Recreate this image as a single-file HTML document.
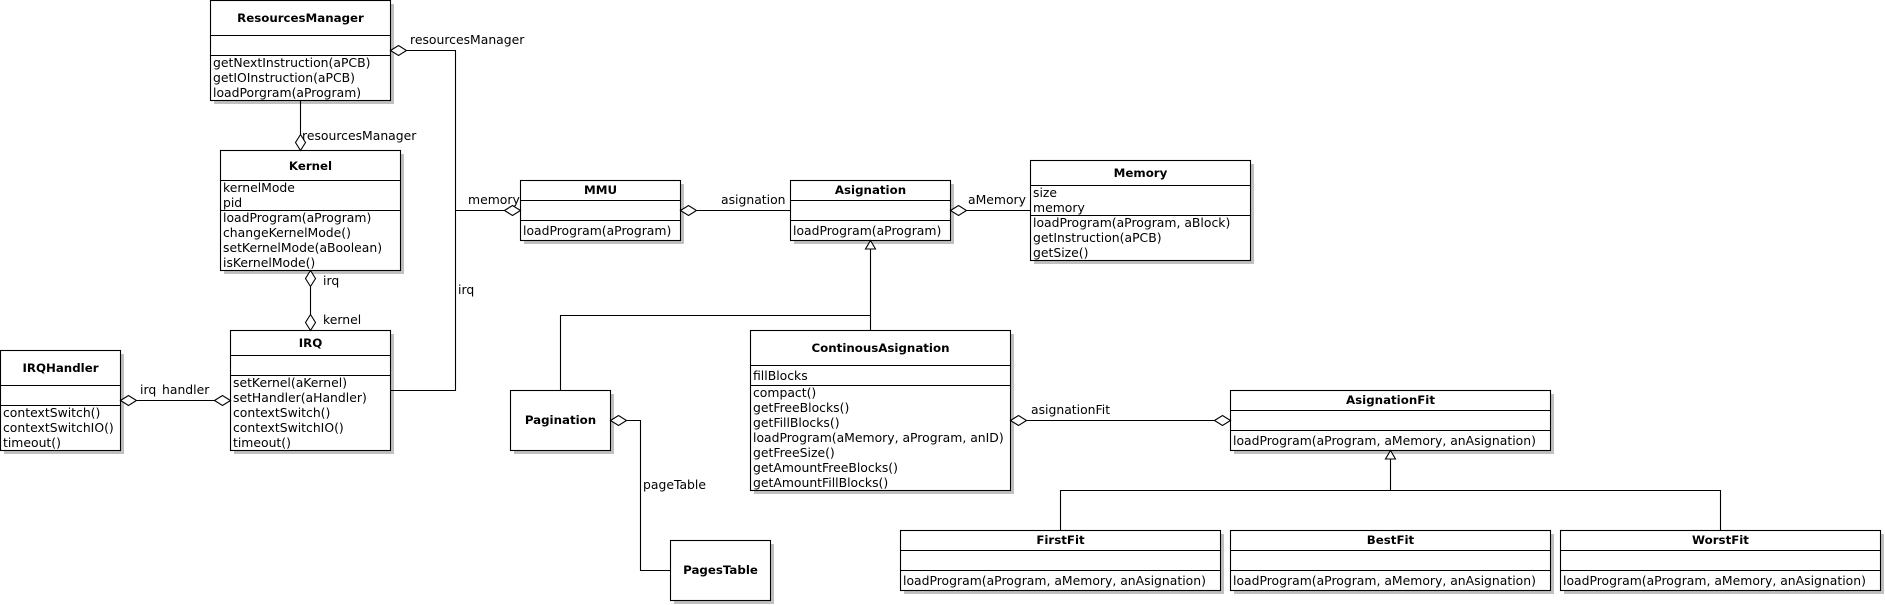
<!DOCTYPE html>
<html><head><meta charset="utf-8"><style>
html,body{margin:0;padding:0;background:#fff;}
svg{display:block;}
text{font-family:"DejaVu Sans","Liberation Sans",sans-serif;font-size:12.4px;fill:#000;}
text.b{font-weight:bold;font-size:11.8px;}
</style></head><body>
<svg width="1885" height="605" viewBox="0 0 1885 605" xmlns="http://www.w3.org/2000/svg">
<g fill="#c0c0c0">
<rect x="214" y="4" width="180" height="100"/>
<rect x="224" y="154" width="180" height="120"/>
<rect x="234" y="334" width="160" height="120"/>
<rect x="4" y="354" width="120" height="100"/>
<rect x="524" y="184" width="160" height="60"/>
<rect x="794" y="184" width="160" height="60"/>
<rect x="1034" y="164" width="220" height="100"/>
<rect x="514" y="394" width="100" height="60"/>
<rect x="674" y="544" width="100" height="60"/>
<rect x="754" y="334" width="260" height="160"/>
<rect x="1234" y="394" width="320" height="60"/>
<rect x="904" y="534" width="320" height="60"/>
<rect x="1234" y="534" width="320" height="60"/>
<rect x="1564" y="534" width="320" height="60"/>
</g>
<g fill="#fff" stroke="#000" stroke-width="1.1">
<rect x="210.5" y="0.5" width="180" height="100"/>
<rect x="220.5" y="150.5" width="180" height="120"/>
<rect x="230.5" y="330.5" width="160" height="120"/>
<rect x="0.5" y="350.5" width="120" height="100"/>
<rect x="520.5" y="180.5" width="160" height="60"/>
<rect x="790.5" y="180.5" width="160" height="60"/>
<rect x="1030.5" y="160.5" width="220" height="100"/>
<rect x="510.5" y="390.5" width="100" height="60"/>
<rect x="670.5" y="540.5" width="100" height="60"/>
<rect x="750.5" y="330.5" width="260" height="160"/>
<rect x="1230.5" y="390.5" width="320" height="60"/>
<rect x="900.5" y="530.5" width="320" height="60"/>
<rect x="1230.5" y="530.5" width="320" height="60"/>
<rect x="1560.5" y="530.5" width="320" height="60"/>
</g>
<g stroke="#000" stroke-width="1.1" fill="none">
<path d="M210.5 35.5H390.5M210.5 55.5H390.5"/>
<path d="M220.5 180.5H400.5M220.5 210.5H400.5"/>
<path d="M230.5 355.5H390.5M230.5 375.5H390.5"/>
<path d="M0.5 385.5H120.5M0.5 405.5H120.5"/>
<path d="M520.5 200.5H680.5M520.5 220.5H680.5"/>
<path d="M790.5 200.5H950.5M790.5 220.5H950.5"/>
<path d="M1030.5 185.5H1250.5M1030.5 215.5H1250.5"/>
<path d="M750.5 365.5H1010.5M750.5 385.5H1010.5"/>
<path d="M1230.5 410.5H1550.5M1230.5 430.5H1550.5"/>
<path d="M900.5 550.5H1220.5M900.5 570.5H1220.5"/>
<path d="M1230.5 550.5H1550.5M1230.5 570.5H1550.5"/>
<path d="M1560.5 550.5H1880.5M1560.5 570.5H1880.5"/>
<path d="M406.5 50.5H455.5V390.5H390.5"/>
<path d="M455.5 210.5H504.5"/>
<path d="M300.5 100.5V134.5"/>
<path d="M310.5 286.5V314.5"/>
<path d="M136.5 400.5H214.5"/>
<path d="M696.5 210.5H790.5"/>
<path d="M966.5 210.5H1030.5"/>
<path d="M870.5 249V330.5M560.5 390.5V315.5H870.5"/>
<path d="M626.5 420.5H640.5V570.5H670.5"/>
<path d="M1026.5 420.5H1214.5"/>
<path d="M1390.5 459V490.5M1060.5 530.5V490.5H1720.5V530.5"/>
</g>
<g stroke="#000" stroke-width="1.1" fill="#fff">
<path d="M390.5 50.5L398.5 45.5L406.5 50.5L398.5 55.5Z"/>
<path d="M504.5 210.5L512.5 205.5L520.5 210.5L512.5 215.5Z"/>
<path d="M300.5 134.5L305.5 142.5L300.5 150.5L295.5 142.5Z"/>
<path d="M310.5 270.5L315.5 278.5L310.5 286.5L305.5 278.5Z"/>
<path d="M310.5 314.5L315.5 322.5L310.5 330.5L305.5 322.5Z"/>
<path d="M120.5 400.5L128.5 395.5L136.5 400.5L128.5 405.5Z"/>
<path d="M214.5 400.5L222.5 395.5L230.5 400.5L222.5 405.5Z"/>
<path d="M680.5 210.5L688.5 205.5L696.5 210.5L688.5 215.5Z"/>
<path d="M950.5 210.5L958.5 205.5L966.5 210.5L958.5 215.5Z"/>
<path d="M610.5 420.5L618.5 415.5L626.5 420.5L618.5 425.5Z"/>
<path d="M1010.5 420.5L1018.5 415.5L1026.5 420.5L1018.5 425.5Z"/>
<path d="M1214.5 420.5L1222.5 415.5L1230.5 420.5L1222.5 425.5Z"/>
<path d="M870.5 240.5L875.5 249L865.5 249Z"/>
<path d="M1390.5 450.5L1395.5 459L1385.5 459Z"/>
</g>
<g text-anchor="middle">
<text class="b" x="300.5" y="22">ResourcesManager</text>
<text class="b" x="310.5" y="170">Kernel</text>
<text class="b" x="310.5" y="347">IRQ</text>
<text class="b" x="60.5" y="372">IRQHandler</text>
<text class="b" x="600.5" y="194">MMU</text>
<text class="b" x="870.5" y="194">Asignation</text>
<text class="b" x="1140.5" y="177">Memory</text>
<text class="b" x="560.5" y="424">Pagination</text>
<text class="b" x="720.5" y="574">PagesTable</text>
<text class="b" x="880.5" y="352">ContinousAsignation</text>
<text class="b" x="1390.5" y="404">AsignationFit</text>
<text class="b" x="1060.5" y="544">FirstFit</text>
<text class="b" x="1390.5" y="544">BestFit</text>
<text class="b" x="1720.5" y="544">WorstFit</text>
</g>
<text x="213" y="67">getNextInstruction(aPCB)</text>
<text x="213" y="82">getIOInstruction(aPCB)</text>
<text x="213" y="97">loadPorgram(aProgram)</text>
<text x="223" y="192">kernelMode</text>
<text x="223" y="207">pid</text>
<text x="223" y="222">loadProgram(aProgram)</text>
<text x="223" y="237">changeKernelMode()</text>
<text x="223" y="252">setKernelMode(aBoolean)</text>
<text x="223" y="267">isKernelMode()</text>
<text x="233" y="387">setKernel(aKernel)</text>
<text x="233" y="402">setHandler(aHandler)</text>
<text x="233" y="417">contextSwitch()</text>
<text x="233" y="432">contextSwitchIO()</text>
<text x="233" y="447">timeout()</text>
<text x="3" y="417">contextSwitch()</text>
<text x="3" y="432">contextSwitchIO()</text>
<text x="3" y="447">timeout()</text>
<text x="523" y="235">loadProgram(aProgram)</text>
<text x="793" y="235">loadProgram(aProgram)</text>
<text x="1033" y="197">size</text>
<text x="1033" y="212">memory</text>
<text x="1033" y="227">loadProgram(aProgram, aBlock)</text>
<text x="1033" y="242">getInstruction(aPCB)</text>
<text x="1033" y="257">getSize()</text>
<text x="753" y="380">fillBlocks</text>
<text x="753" y="397">compact()</text>
<text x="753" y="412">getFreeBlocks()</text>
<text x="753" y="427">getFillBlocks()</text>
<text x="753" y="442">loadProgram(aMemory, aProgram, anID)</text>
<text x="753" y="457">getFreeSize()</text>
<text x="753" y="472">getAmountFreeBlocks()</text>
<text x="753" y="487">getAmountFillBlocks()</text>
<text x="1233" y="445">loadProgram(aProgram, aMemory, anAsignation)</text>
<text x="903" y="585">loadProgram(aProgram, aMemory, anAsignation)</text>
<text x="1233" y="585">loadProgram(aProgram, aMemory, anAsignation)</text>
<text x="1563" y="585">loadProgram(aProgram, aMemory, anAsignation)</text>
<text x="410" y="44">resourcesManager</text>
<text x="302" y="140">resourcesManager</text>
<text x="468" y="204">memory</text>
<text x="323" y="285">irq</text>
<text x="323" y="324">kernel</text>
<text x="458" y="294">irq</text>
<text x="140" y="394">irq</text>
<text x="162" y="394">handler</text>
<text x="721" y="204">asignation</text>
<text x="968" y="204">aMemory</text>
<text x="643" y="489">pageTable</text>
<text x="1031" y="414">asignationFit</text>
</svg>
</body></html>
